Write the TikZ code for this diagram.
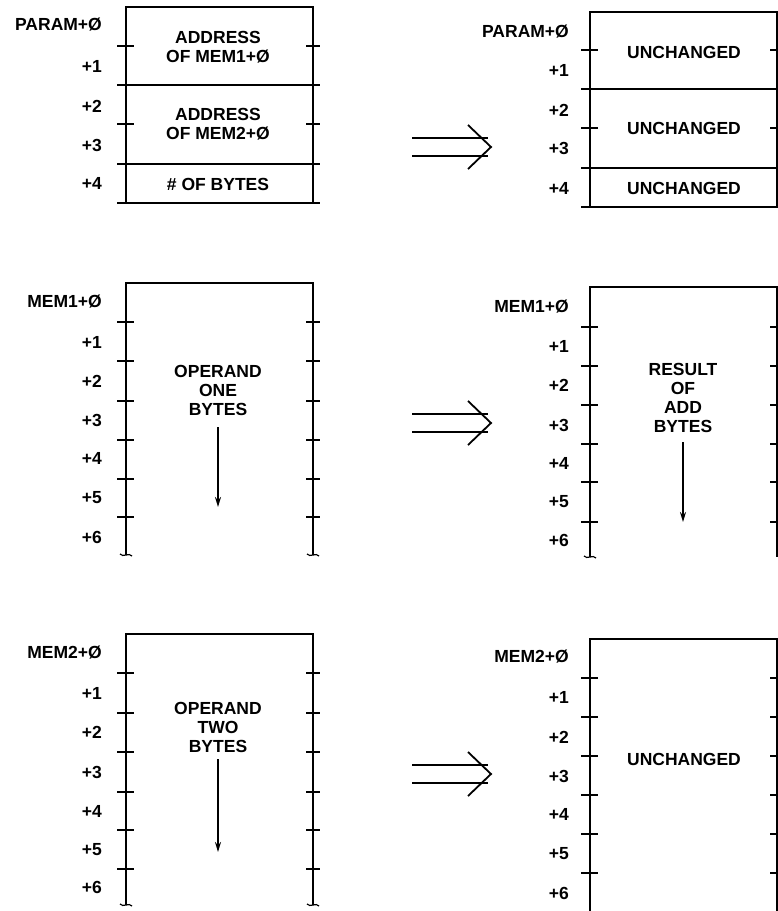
\documentclass[tikz,border=0pt]{standalone}
\usepackage{fontspec}
\setmainfont{Liberation Sans}
\usetikzlibrary{arrows.meta}
\newcommand\diafont{\fontsize{17.5}{19}\selectfont\bfseries}
\begin{document}
\begin{tikzpicture}[x=1pt,y=-1pt,
  edge/.style={line width=2.1pt},
  tk/.style={line width=2pt},
  lbl/.style={anchor=east,inner sep=0pt,font=\diafont},
  txt/.style={align=center,inner sep=0pt,font=\diafont},
  dnarrow/.style={line width=1.8pt,-{Stealth[length=10pt,width=6pt]}},
  dbl/.style={line width=1.8pt},
  brk/.pic={\draw[line width=1.2pt] (-6,-1) .. controls (-3,3) and (3,-3) .. (6,1);}]
\useasboundingbox (0,0) rectangle (778,911);

% ---------- top left: PARAM block ----------
\draw[edge] (126,203) -- (126,7) -- (313,7) -- (313,203);
\foreach \y in {85,164,203} \draw[edge] (117,\y) -- (320,\y);
\foreach \y in {46,124} {\draw[tk] (117,\y) -- (134,\y); \draw[tk] (306,\y) -- (320,\y);}
\node[lbl] (pa0) at (102,25) {PARAM+Ø};
\node[lbl] (pa1) at (102,66) {+1};
\node[lbl] (pa2) at (102,106) {+2};
\node[lbl] (pa3) at (102,145) {+3};
\node[lbl] (pa4) at (102,183) {+4};
\node[txt] (ad1) at (218,47) {ADDRESS\\OF MEM1+Ø};
\node[txt] (ad2) at (218,124) {ADDRESS\\OF MEM2+Ø};
\node[txt] (nb) at (218,184) {\# OF BYTES};

% ---------- top right ----------
\draw[edge] (590,207) -- (590,12) -- (777,12) -- (777,207);
\foreach \y in {89,168,207} \draw[edge] (581,\y) -- (784,\y);
\foreach \y in {50,128} {\draw[tk] (581,\y) -- (598,\y); \draw[tk] (770,\y) -- (784,\y);}
\node[lbl] (pb0) at (569,32) {PARAM+Ø};
\node[lbl] (pb1) at (569,70) {+1};
\node[lbl] (pb2) at (569,110) {+2};
\node[lbl] (pb3) at (569,148) {+3};
\node[lbl] (pb4) at (569,188) {+4};
\node[txt] (un1) at (684,52) {UNCHANGED};
\node[txt] (un2) at (684,128) {UNCHANGED};
\node[txt] (un3) at (684,188) {UNCHANGED};

% ---------- arrows between columns ----------
\foreach \c in {147,423,774} {
  \draw[dbl] (412,\c-9) -- (488,\c-9);
  \draw[dbl] (412,\c+9) -- (488,\c+9);
  \draw[dbl] (468,\c-22) -- (491,\c) -- (468,\c+22);
}

% ---------- middle left: MEM1 ----------
\draw[edge] (126,555) -- (126,283) -- (313,283) -- (313,555);
\foreach \y in {322,361,401,440,479,517} {\draw[tk] (117,\y) -- (134,\y); \draw[tk] (306,\y) -- (320,\y);}
\pic at (126,555) {brk}; \pic at (313,555) {brk};
\node[lbl] (m10) at (102,302) {MEM1+Ø};
\node[lbl] (m11) at (102,342) {+1};
\node[lbl] (m12) at (102,381) {+2};
\node[lbl] (m13) at (102,420) {+3};
\node[lbl] (m14) at (102,458) {+4};
\node[lbl] (m15) at (102,498) {+5};
\node[lbl] (m16) at (102,537) {+6};
\node[txt] (op1) at (218,390) {OPERAND\\ONE\\BYTES};
\coordinate (op1s) at (218,427); \coordinate (op1e) at (218,507);
\draw[dnarrow] (op1s) -- (op1e);

% ---------- middle right: MEM1 result ----------
\draw[edge] (590,557) -- (590,287) -- (777,287) -- (777,557);
\foreach \y in {327,366,405,444,482,522} {\draw[tk] (581,\y) -- (598,\y); \draw[tk] (770,\y) -- (784,\y);}
\pic at (590,557) {brk};
\node[lbl] (r10) at (569,307) {MEM1+Ø};
\node[lbl] (r11) at (569,346) {+1};
\node[lbl] (r12) at (569,385) {+2};
\node[lbl] (r13) at (569,425) {+3};
\node[lbl] (r14) at (569,463) {+4};
\node[lbl] (r15) at (569,502) {+5};
\node[lbl] (r16) at (569,540) {+6};
\node[txt] (res) at (683,398) {RESULT\\OF\\ADD\\BYTES};
\coordinate (ress) at (683,442); \coordinate (rese) at (683,522);
\draw[dnarrow] (ress) -- (rese);

% ---------- bottom left: MEM2 ----------
\draw[edge] (126,905) -- (126,634) -- (313,634) -- (313,905);
\foreach \y in {673,713,752,792,830,869} {\draw[tk] (117,\y) -- (134,\y); \draw[tk] (306,\y) -- (320,\y);}
\pic at (126,905) {brk}; \pic at (313,905) {brk};
\node[lbl] (m20) at (102,653) {MEM2+Ø};
\node[lbl] (m21) at (102,693) {+1};
\node[lbl] (m22) at (102,732) {+2};
\node[lbl] (m23) at (102,772) {+3};
\node[lbl] (m24) at (102,811) {+4};
\node[lbl] (m25) at (102,850) {+5};
\node[lbl] (m26) at (102,887) {+6};
\node[txt] (op2) at (218,727) {OPERAND\\TWO\\BYTES};
\coordinate (op2s) at (218,759); \coordinate (op2e) at (218,852);
\draw[dnarrow] (op2s) -- (op2e);

% ---------- bottom right: MEM2 unchanged ----------
\draw[edge] (590,911) -- (590,639) -- (777,639) -- (777,911);
\foreach \y in {678,717,756,795,834,873} {\draw[tk] (581,\y) -- (598,\y); \draw[tk] (770,\y) -- (784,\y);}
\node[lbl] (s20) at (569,657) {MEM2+Ø};
\node[lbl] (s21) at (569,697) {+1};
\node[lbl] (s22) at (569,737) {+2};
\node[lbl] (s23) at (569,776) {+3};
\node[lbl] (s24) at (569,814) {+4};
\node[lbl] (s25) at (569,854) {+5};
\node[lbl] (s26) at (569,893) {+6};
\node[txt] (un4) at (684,759) {UNCHANGED};
\end{tikzpicture}
\end{document}
